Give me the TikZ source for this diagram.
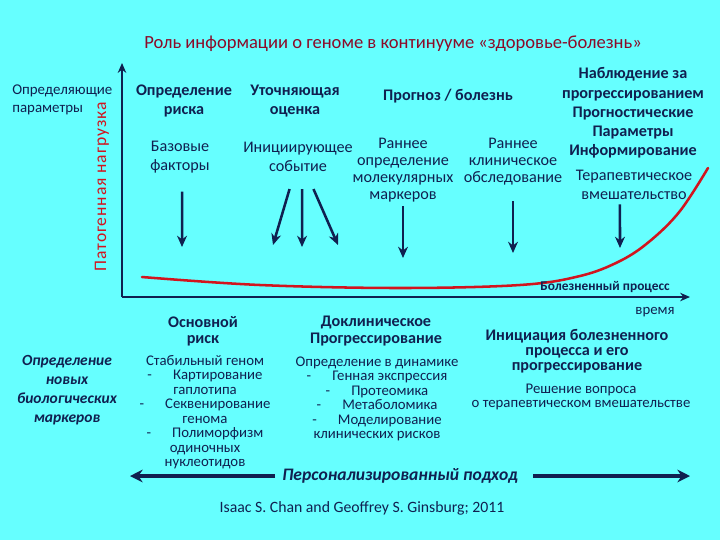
\documentclass[tikz,border=0pt]{standalone}
\usepackage{fontspec}
\setmainfont{Carlito}
\usetikzlibrary{arrows.meta, positioning, calc}
\definecolor{bgcyan}{RGB}{102,255,255}
\definecolor{navy}{RGB}{16,32,80}
\definecolor{curvered}{RGB}{210,20,30}
\definecolor{titlered}{RGB}{140,10,40}

\begin{document}
\begin{tikzpicture}[x=0.025cm, y=-0.025cm,
    every node/.style={text=navy, inner sep=0pt},
    hdr/.style={font=\fontsize{11.5}{13.7}\selectfont\bfseries, align=center},
    txt/.style={font=\fontsize{11.5}{13.7}\selectfont, align=center},
    lst/.style={font=\fontsize{10.5}{10.3}\selectfont, align=center},
    pointer/.style={draw=navy, line width=1.8pt, -{Stealth[length=8pt,width=7pt]}},
    axisline/.style={draw=navy, line width=2pt, -{Stealth[length=7pt,width=6pt]}},
    wide/.style={draw=navy, line width=2.6pt, -{Stealth[length=9pt,width=9pt,inset=3pt]}}]
  \fill[bgcyan] (0,0) rectangle (720,540);
  \useasboundingbox (0,0) rectangle (720,540);

  % axes
  \coordinate (origin) at (122,297);
  \coordinate (ytop) at (122,63);
  \coordinate (xend) at (690,297);
  \draw[axisline] (origin) -- (ytop);
  \draw[axisline] (origin) -- (xend);

  % disease curve
  \draw[curvered, line width=1.8pt, line cap=round]
    plot[smooth, tension=0.6] coordinates {(142,277) (260,285) (400,288) (520,285)
      (580,276) (620,261) (650,241) (680,211) (708,168)};

  \node[font=\fontsize{13.2}{15}\selectfont, text=titlered] (title) at (393,44)
    {Роль информации о геноме в континууме «здоровье-болезнь»};
  \node[txt, align=left, anchor=west, font=\fontsize{10.6}{13.3}\selectfont] (params) at (12,100)
    {Определяющие\\параметры};
  \node[font=\fontsize{12.5}{14}\selectfont\addfontfeatures{LetterSpace=5}, text=curvered,
    rotate=90] (load) at (102,187) {Патогенная нагрузка};

  % upper headers
  \node[hdr] (risk) at (184,101) {Определение\\риска};
  \node[hdr] (refine) at (295,101) {Уточняющая\\оценка};
  \node[hdr] (forecast) at (448,96) {Прогноз / болезнь};
  \node[hdr] (watch) at (633,113)
    {Наблюдение за\\прогрессированием\\Прогностические\\Параметры\\Информирование};

  % events
  \node[txt] (basefac) at (180,157) {Базовые\\факторы};
  \node[txt] (initev) at (298,157) {Инициирующее\\событие};
  \node[txt, font=\fontsize{11.5}{12}\selectfont] (molec) at (403,170)
    {Раннее\\определение\\молекулярных\\маркеров};
  \node[txt, font=\fontsize{11.5}{12}\selectfont] (clinic) at (513,162)
    {Раннее\\клиническое\\обследование};
  \node[txt] (therapy) at (634,185) {Терапевтическое\\вмешательство};

  \coordinate (hitbase) at (182,247);
  \coordinate (hitinitA) at (273,245);
  \coordinate (hitinitB) at (302,247);
  \coordinate (hitinitC) at (338,245);
  \coordinate (hitmolec) at (403,258);
  \coordinate (hitclinic) at (513,253);
  \coordinate (hittherapy) at (620,248);
  \draw[pointer] ([xshift=1.5pt,yshift=-13pt]basefac.south) -- (hitbase);
  \draw[pointer] ([xshift=-6pt,yshift=-12pt]initev.south) -- (hitinitA);
  \draw[pointer] ([xshift=3pt,yshift=-12pt]initev.south) -- (hitinitB);
  \draw[pointer] ([xshift=11pt,yshift=-12pt]initev.south) -- (hitinitC);
  \draw[pointer] ([yshift=-3pt]molec.south) -- (hitmolec);
  \draw[pointer] ([yshift=-11pt]clinic.south) -- (hitclinic);
  \draw[pointer] ([xshift=-10pt,yshift=-3pt]therapy.south) -- (hittherapy);

  \node[font=\fontsize{9.5}{11}\selectfont\bfseries] (process) at (605,287) {Болезненный процесс};
  \node[font=\fontsize{10.5}{12}\selectfont] (time) at (655,312) {время};

  % lower part
  \node[font=\fontsize{11}{13.5}\selectfont\bfseries\itshape, align=center] (newmark) at (67,390)
    {Определение\\новых\\биологических\\маркеров};

  \node[hdr, font=\fontsize{11.5}{11.5}\selectfont\bfseries] (basic) at (203,331) {Основной\\риск};
  \node[lst] (basiclist) at (205,412)
    {Стабильный геном\\-\hspace{15pt}Картирование\\гаплотипа\\-\hspace{15pt}Секвенирование\\генома\\-\hspace{15pt}Полиморфизм\\одиночных\\нуклеотидов};

  \node[hdr, font=\fontsize{11.5}{11.5}\selectfont\bfseries] (preclin) at (376,331)
    {Доклиническое\\Прогрессирование};
  \node[lst] (preclinlist) at (377,399)
    {Определение в динамике\\-\hspace{15pt}Генная экспрессия\\-\hspace{15pt}Протеомика\\-\hspace{15pt}Метаболомика\\-\hspace{15pt}Моделирование\\клинических рисков};

  \node[hdr, font=\fontsize{11.5}{10.8}\selectfont\bfseries] (onset) at (577,351)
    {Инициация болезненного\\процесса и его\\прогрессирование};
  \node[lst] (decision) at (581,397) {Решение вопроса\\о терапевтическом вмешательстве};

  % personalised approach
  \node[font=\fontsize{12.5}{14}\selectfont\bfseries\itshape] (pers) at (400,476)
    {Персонализированный подход};
  \coordinate (leftend) at (130,476);
  \coordinate (rightend) at (690,476);
  \draw[wide, shorten <=5pt] (pers) -- (leftend);
  \draw[wide, shorten <=11pt] (pers) -- (rightend);

  \node[font=\fontsize{11.2}{13}\selectfont] (cite) at (362,508)
    {Isaac S. Chan and Geoffrey S. Ginsburg; 2011};
\end{tikzpicture}
\end{document}
